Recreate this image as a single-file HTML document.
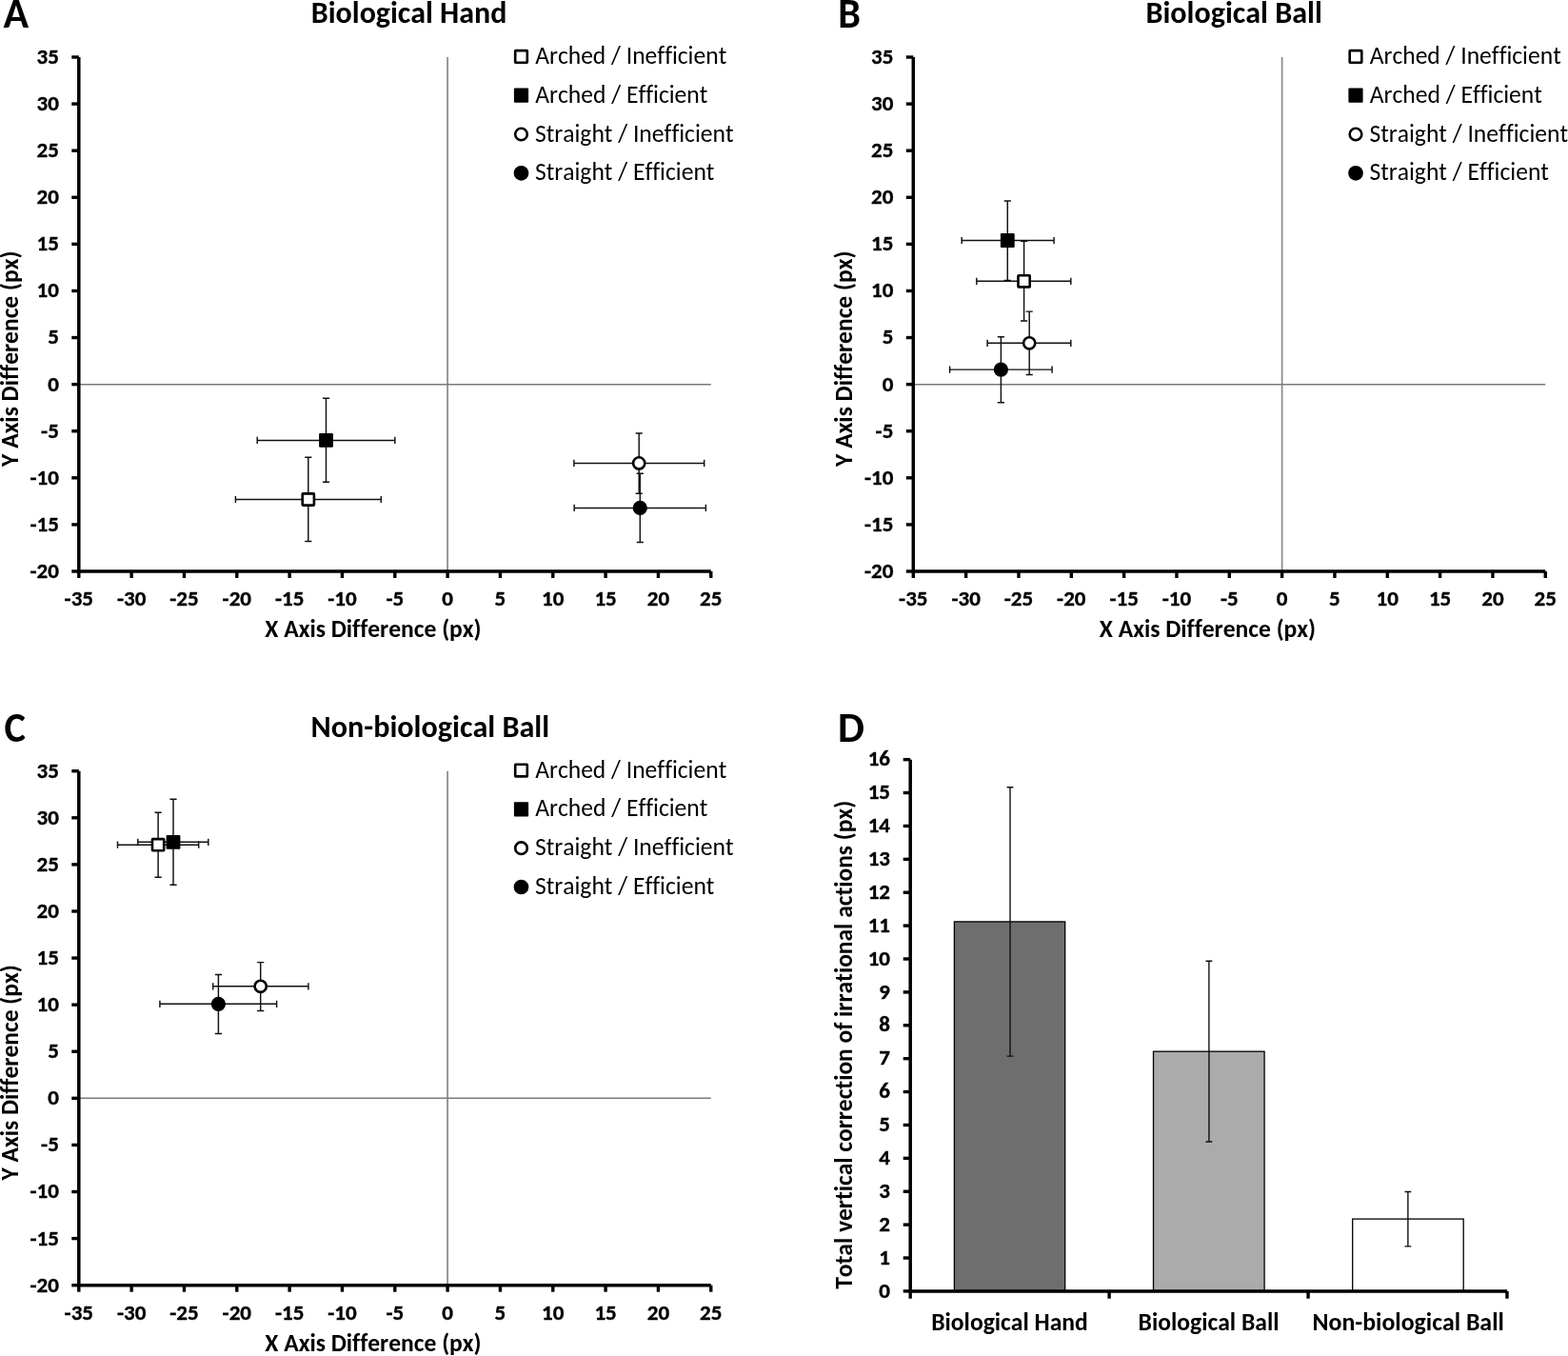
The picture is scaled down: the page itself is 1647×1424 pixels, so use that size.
<!DOCTYPE html>
<html><head><meta charset="utf-8"><title>Figure</title>
<style>html,body{margin:0;padding:0;background:#fff;}body{width:1647px;height:1424px;overflow:hidden;}svg{display:block;}text{font-variant-ligatures:none;font-kerning:none;}</style>
</head><body>
<svg width="1647" height="1424" viewBox="0 0 1647 1424" font-family="Carlito, 'Liberation Sans', sans-serif" fill="#000">
<rect width="1647" height="1424" fill="#fff"/>
<text x="3.40" y="29.10" font-size="44.5" font-weight="700" textLength="26.67" lengthAdjust="spacingAndGlyphs">A</text>
<text x="326.81" y="23.60" font-size="32.2" font-weight="700" textLength="205.61" lengthAdjust="spacingAndGlyphs">Biological Hand</text>
<line x1="470.11" y1="60.00" x2="470.11" y2="599.99" stroke="#888" stroke-width="1.7"/>
<line x1="82.80" y1="403.63" x2="746.76" y2="403.63" stroke="#7a7a7a" stroke-width="1.5"/>
<path d="M82.80,60.00 V599.99 H746.76" fill="none" stroke="#000" stroke-width="3.5" stroke-linejoin="miter"/>
<line x1="75.30" y1="60.00" x2="82.80" y2="60.00" stroke="#000" stroke-width="3.4"/>
<text x="61.80" y="66.90" font-size="23" font-weight="700" text-anchor="end" stroke="#000" stroke-width="0.35" textLength="23.33" lengthAdjust="spacingAndGlyphs">35</text>
<line x1="75.30" y1="109.09" x2="82.80" y2="109.09" stroke="#000" stroke-width="3.4"/>
<text x="61.80" y="115.99" font-size="23" font-weight="700" text-anchor="end" stroke="#000" stroke-width="0.35" textLength="23.33" lengthAdjust="spacingAndGlyphs">30</text>
<line x1="75.30" y1="158.18" x2="82.80" y2="158.18" stroke="#000" stroke-width="3.4"/>
<text x="61.80" y="165.08" font-size="23" font-weight="700" text-anchor="end" stroke="#000" stroke-width="0.35" textLength="23.33" lengthAdjust="spacingAndGlyphs">25</text>
<line x1="75.30" y1="207.27" x2="82.80" y2="207.27" stroke="#000" stroke-width="3.4"/>
<text x="61.80" y="214.17" font-size="23" font-weight="700" text-anchor="end" stroke="#000" stroke-width="0.35" textLength="23.33" lengthAdjust="spacingAndGlyphs">20</text>
<line x1="75.30" y1="256.36" x2="82.80" y2="256.36" stroke="#000" stroke-width="3.4"/>
<text x="61.80" y="263.26" font-size="23" font-weight="700" text-anchor="end" stroke="#000" stroke-width="0.35" textLength="23.33" lengthAdjust="spacingAndGlyphs">15</text>
<line x1="75.30" y1="305.45" x2="82.80" y2="305.45" stroke="#000" stroke-width="3.4"/>
<text x="61.80" y="312.35" font-size="23" font-weight="700" text-anchor="end" stroke="#000" stroke-width="0.35" textLength="23.33" lengthAdjust="spacingAndGlyphs">10</text>
<line x1="75.30" y1="354.54" x2="82.80" y2="354.54" stroke="#000" stroke-width="3.4"/>
<text x="61.80" y="361.44" font-size="23" font-weight="700" text-anchor="end" stroke="#000" stroke-width="0.35" textLength="11.67" lengthAdjust="spacingAndGlyphs">5</text>
<line x1="75.30" y1="403.63" x2="82.80" y2="403.63" stroke="#000" stroke-width="3.4"/>
<text x="61.80" y="410.53" font-size="23" font-weight="700" text-anchor="end" stroke="#000" stroke-width="0.35" textLength="11.67" lengthAdjust="spacingAndGlyphs">0</text>
<line x1="75.30" y1="452.72" x2="82.80" y2="452.72" stroke="#000" stroke-width="3.4"/>
<text x="61.80" y="459.62" font-size="23" font-weight="700" text-anchor="end" stroke="#000" stroke-width="0.35" textLength="18.70" lengthAdjust="spacingAndGlyphs">-5</text>
<line x1="75.30" y1="501.81" x2="82.80" y2="501.81" stroke="#000" stroke-width="3.4"/>
<text x="61.80" y="508.71" font-size="23" font-weight="700" text-anchor="end" stroke="#000" stroke-width="0.35" textLength="30.36" lengthAdjust="spacingAndGlyphs">-10</text>
<line x1="75.30" y1="550.90" x2="82.80" y2="550.90" stroke="#000" stroke-width="3.4"/>
<text x="61.80" y="557.80" font-size="23" font-weight="700" text-anchor="end" stroke="#000" stroke-width="0.35" textLength="30.36" lengthAdjust="spacingAndGlyphs">-15</text>
<line x1="75.30" y1="599.99" x2="82.80" y2="599.99" stroke="#000" stroke-width="3.4"/>
<text x="61.80" y="606.89" font-size="23" font-weight="700" text-anchor="end" stroke="#000" stroke-width="0.35" textLength="30.36" lengthAdjust="spacingAndGlyphs">-20</text>
<line x1="82.80" y1="599.99" x2="82.80" y2="606.99" stroke="#000" stroke-width="3.4"/>
<text x="82.80" y="635.99" font-size="23" font-weight="700" text-anchor="middle" stroke="#000" stroke-width="0.35" textLength="30.36" lengthAdjust="spacingAndGlyphs">-35</text>
<line x1="138.13" y1="599.99" x2="138.13" y2="606.99" stroke="#000" stroke-width="3.4"/>
<text x="138.13" y="635.99" font-size="23" font-weight="700" text-anchor="middle" stroke="#000" stroke-width="0.35" textLength="30.36" lengthAdjust="spacingAndGlyphs">-30</text>
<line x1="193.46" y1="599.99" x2="193.46" y2="606.99" stroke="#000" stroke-width="3.4"/>
<text x="193.46" y="635.99" font-size="23" font-weight="700" text-anchor="middle" stroke="#000" stroke-width="0.35" textLength="30.36" lengthAdjust="spacingAndGlyphs">-25</text>
<line x1="248.79" y1="599.99" x2="248.79" y2="606.99" stroke="#000" stroke-width="3.4"/>
<text x="248.79" y="635.99" font-size="23" font-weight="700" text-anchor="middle" stroke="#000" stroke-width="0.35" textLength="30.36" lengthAdjust="spacingAndGlyphs">-20</text>
<line x1="304.12" y1="599.99" x2="304.12" y2="606.99" stroke="#000" stroke-width="3.4"/>
<text x="304.12" y="635.99" font-size="23" font-weight="700" text-anchor="middle" stroke="#000" stroke-width="0.35" textLength="30.36" lengthAdjust="spacingAndGlyphs">-15</text>
<line x1="359.45" y1="599.99" x2="359.45" y2="606.99" stroke="#000" stroke-width="3.4"/>
<text x="359.45" y="635.99" font-size="23" font-weight="700" text-anchor="middle" stroke="#000" stroke-width="0.35" textLength="30.36" lengthAdjust="spacingAndGlyphs">-10</text>
<line x1="414.78" y1="599.99" x2="414.78" y2="606.99" stroke="#000" stroke-width="3.4"/>
<text x="414.78" y="635.99" font-size="23" font-weight="700" text-anchor="middle" stroke="#000" stroke-width="0.35" textLength="18.70" lengthAdjust="spacingAndGlyphs">-5</text>
<line x1="470.11" y1="599.99" x2="470.11" y2="606.99" stroke="#000" stroke-width="3.4"/>
<text x="470.11" y="635.99" font-size="23" font-weight="700" text-anchor="middle" stroke="#000" stroke-width="0.35" textLength="11.67" lengthAdjust="spacingAndGlyphs">0</text>
<line x1="525.44" y1="599.99" x2="525.44" y2="606.99" stroke="#000" stroke-width="3.4"/>
<text x="525.44" y="635.99" font-size="23" font-weight="700" text-anchor="middle" stroke="#000" stroke-width="0.35" textLength="11.67" lengthAdjust="spacingAndGlyphs">5</text>
<line x1="580.77" y1="599.99" x2="580.77" y2="606.99" stroke="#000" stroke-width="3.4"/>
<text x="580.77" y="635.99" font-size="23" font-weight="700" text-anchor="middle" stroke="#000" stroke-width="0.35" textLength="23.33" lengthAdjust="spacingAndGlyphs">10</text>
<line x1="636.10" y1="599.99" x2="636.10" y2="606.99" stroke="#000" stroke-width="3.4"/>
<text x="636.10" y="635.99" font-size="23" font-weight="700" text-anchor="middle" stroke="#000" stroke-width="0.35" textLength="23.33" lengthAdjust="spacingAndGlyphs">15</text>
<line x1="691.43" y1="599.99" x2="691.43" y2="606.99" stroke="#000" stroke-width="3.4"/>
<text x="691.43" y="635.99" font-size="23" font-weight="700" text-anchor="middle" stroke="#000" stroke-width="0.35" textLength="23.33" lengthAdjust="spacingAndGlyphs">20</text>
<line x1="746.76" y1="599.99" x2="746.76" y2="606.99" stroke="#000" stroke-width="3.4"/>
<text x="746.76" y="635.99" font-size="23" font-weight="700" text-anchor="middle" stroke="#000" stroke-width="0.35" textLength="23.33" lengthAdjust="spacingAndGlyphs">25</text>
<text x="278.30" y="668.90" font-size="25.55" font-weight="700" textLength="227.26" lengthAdjust="spacingAndGlyphs">X Axis Difference (px)</text>
<text x="0" y="0" font-size="25.55" font-weight="700" textLength="226.27" lengthAdjust="spacingAndGlyphs" transform="translate(18.50,489.90) rotate(-90) translate(-0.00,0)">Y Axis Difference (px)</text>
<rect x="541.20" y="53.10" width="12.60" height="12.60" rx="0.5" fill="#fff" stroke="#000" stroke-width="2.6"/>
<text x="562.20" y="66.90" font-size="25.6" font-weight="400" textLength="201.02" lengthAdjust="spacingAndGlyphs">Arched / Inefficient</text>
<rect x="539.90" y="92.60" width="15.20" height="15.20" rx="1" fill="#000"/>
<text x="562.20" y="107.70" font-size="25.6" font-weight="400" textLength="181.19" lengthAdjust="spacingAndGlyphs">Arched / Efficient</text>
<circle cx="547.50" cy="141.00" r="6.30" fill="#fff" stroke="#000" stroke-width="2.6"/>
<text x="561.90" y="148.50" font-size="25.6" font-weight="400" textLength="208.70" lengthAdjust="spacingAndGlyphs">Straight / Inefficient</text>
<circle cx="547.50" cy="181.80" r="7.85" fill="#000"/>
<text x="561.90" y="189.30" font-size="25.6" font-weight="400" textLength="188.56" lengthAdjust="spacingAndGlyphs">Straight / Efficient</text>
<path d="M247.40,524.50 H400.30 M323.80,480.30 V568.40 M247.40,520.90 v7.2 M400.30,520.90 v7.2 M320.20,480.30 h7.2 M320.20,568.40 h7.2" stroke="#111" stroke-width="1.45" fill="none"/>
<path d="M270.20,462.40 H414.80 M342.50,418.30 V506.20 M270.20,458.80 v7.2 M414.80,458.80 v7.2 M338.90,418.30 h7.2 M338.90,506.20 h7.2" stroke="#111" stroke-width="1.45" fill="none"/>
<path d="M602.90,486.40 H739.70 M671.20,455.00 V518.20 M602.90,482.80 v7.2 M739.70,482.80 v7.2 M667.60,455.00 h7.2 M667.60,518.20 h7.2" stroke="#111" stroke-width="1.45" fill="none"/>
<path d="M603.20,533.40 H741.40 M672.30,497.30 V569.50 M603.20,529.80 v7.2 M741.40,529.80 v7.2 M668.70,497.30 h7.2 M668.70,569.50 h7.2" stroke="#111" stroke-width="1.45" fill="none"/>
<rect x="317.70" y="518.40" width="12.20" height="12.20" rx="0.5" fill="#fff" stroke="#000" stroke-width="2.6"/>
<rect x="335.10" y="455.00" width="14.80" height="14.80" rx="1" fill="#000"/>
<circle cx="671.20" cy="486.40" r="6.10" fill="#fff" stroke="#000" stroke-width="2.6"/>
<circle cx="672.30" cy="533.40" r="7.65" fill="#000"/>
<text x="880.30" y="29.10" font-size="44.5" font-weight="700" textLength="23.71" lengthAdjust="spacingAndGlyphs">B</text>
<text x="1203.50" y="23.60" font-size="32.2" font-weight="700" textLength="185.31" lengthAdjust="spacingAndGlyphs">Biological Ball</text>
<line x1="1346.61" y1="60.00" x2="1346.61" y2="599.99" stroke="#888" stroke-width="1.7"/>
<line x1="959.30" y1="403.63" x2="1623.26" y2="403.63" stroke="#7a7a7a" stroke-width="1.5"/>
<path d="M959.30,60.00 V599.99 H1623.26" fill="none" stroke="#000" stroke-width="3.5" stroke-linejoin="miter"/>
<line x1="951.80" y1="60.00" x2="959.30" y2="60.00" stroke="#000" stroke-width="3.4"/>
<text x="938.30" y="66.90" font-size="23" font-weight="700" text-anchor="end" stroke="#000" stroke-width="0.35" textLength="23.33" lengthAdjust="spacingAndGlyphs">35</text>
<line x1="951.80" y1="109.09" x2="959.30" y2="109.09" stroke="#000" stroke-width="3.4"/>
<text x="938.30" y="115.99" font-size="23" font-weight="700" text-anchor="end" stroke="#000" stroke-width="0.35" textLength="23.33" lengthAdjust="spacingAndGlyphs">30</text>
<line x1="951.80" y1="158.18" x2="959.30" y2="158.18" stroke="#000" stroke-width="3.4"/>
<text x="938.30" y="165.08" font-size="23" font-weight="700" text-anchor="end" stroke="#000" stroke-width="0.35" textLength="23.33" lengthAdjust="spacingAndGlyphs">25</text>
<line x1="951.80" y1="207.27" x2="959.30" y2="207.27" stroke="#000" stroke-width="3.4"/>
<text x="938.30" y="214.17" font-size="23" font-weight="700" text-anchor="end" stroke="#000" stroke-width="0.35" textLength="23.33" lengthAdjust="spacingAndGlyphs">20</text>
<line x1="951.80" y1="256.36" x2="959.30" y2="256.36" stroke="#000" stroke-width="3.4"/>
<text x="938.30" y="263.26" font-size="23" font-weight="700" text-anchor="end" stroke="#000" stroke-width="0.35" textLength="23.33" lengthAdjust="spacingAndGlyphs">15</text>
<line x1="951.80" y1="305.45" x2="959.30" y2="305.45" stroke="#000" stroke-width="3.4"/>
<text x="938.30" y="312.35" font-size="23" font-weight="700" text-anchor="end" stroke="#000" stroke-width="0.35" textLength="23.33" lengthAdjust="spacingAndGlyphs">10</text>
<line x1="951.80" y1="354.54" x2="959.30" y2="354.54" stroke="#000" stroke-width="3.4"/>
<text x="938.30" y="361.44" font-size="23" font-weight="700" text-anchor="end" stroke="#000" stroke-width="0.35" textLength="11.67" lengthAdjust="spacingAndGlyphs">5</text>
<line x1="951.80" y1="403.63" x2="959.30" y2="403.63" stroke="#000" stroke-width="3.4"/>
<text x="938.30" y="410.53" font-size="23" font-weight="700" text-anchor="end" stroke="#000" stroke-width="0.35" textLength="11.67" lengthAdjust="spacingAndGlyphs">0</text>
<line x1="951.80" y1="452.72" x2="959.30" y2="452.72" stroke="#000" stroke-width="3.4"/>
<text x="938.30" y="459.62" font-size="23" font-weight="700" text-anchor="end" stroke="#000" stroke-width="0.35" textLength="18.70" lengthAdjust="spacingAndGlyphs">-5</text>
<line x1="951.80" y1="501.81" x2="959.30" y2="501.81" stroke="#000" stroke-width="3.4"/>
<text x="938.30" y="508.71" font-size="23" font-weight="700" text-anchor="end" stroke="#000" stroke-width="0.35" textLength="30.36" lengthAdjust="spacingAndGlyphs">-10</text>
<line x1="951.80" y1="550.90" x2="959.30" y2="550.90" stroke="#000" stroke-width="3.4"/>
<text x="938.30" y="557.80" font-size="23" font-weight="700" text-anchor="end" stroke="#000" stroke-width="0.35" textLength="30.36" lengthAdjust="spacingAndGlyphs">-15</text>
<line x1="951.80" y1="599.99" x2="959.30" y2="599.99" stroke="#000" stroke-width="3.4"/>
<text x="938.30" y="606.89" font-size="23" font-weight="700" text-anchor="end" stroke="#000" stroke-width="0.35" textLength="30.36" lengthAdjust="spacingAndGlyphs">-20</text>
<line x1="959.30" y1="599.99" x2="959.30" y2="606.99" stroke="#000" stroke-width="3.4"/>
<text x="959.30" y="635.99" font-size="23" font-weight="700" text-anchor="middle" stroke="#000" stroke-width="0.35" textLength="30.36" lengthAdjust="spacingAndGlyphs">-35</text>
<line x1="1014.63" y1="599.99" x2="1014.63" y2="606.99" stroke="#000" stroke-width="3.4"/>
<text x="1014.63" y="635.99" font-size="23" font-weight="700" text-anchor="middle" stroke="#000" stroke-width="0.35" textLength="30.36" lengthAdjust="spacingAndGlyphs">-30</text>
<line x1="1069.96" y1="599.99" x2="1069.96" y2="606.99" stroke="#000" stroke-width="3.4"/>
<text x="1069.96" y="635.99" font-size="23" font-weight="700" text-anchor="middle" stroke="#000" stroke-width="0.35" textLength="30.36" lengthAdjust="spacingAndGlyphs">-25</text>
<line x1="1125.29" y1="599.99" x2="1125.29" y2="606.99" stroke="#000" stroke-width="3.4"/>
<text x="1125.29" y="635.99" font-size="23" font-weight="700" text-anchor="middle" stroke="#000" stroke-width="0.35" textLength="30.36" lengthAdjust="spacingAndGlyphs">-20</text>
<line x1="1180.62" y1="599.99" x2="1180.62" y2="606.99" stroke="#000" stroke-width="3.4"/>
<text x="1180.62" y="635.99" font-size="23" font-weight="700" text-anchor="middle" stroke="#000" stroke-width="0.35" textLength="30.36" lengthAdjust="spacingAndGlyphs">-15</text>
<line x1="1235.95" y1="599.99" x2="1235.95" y2="606.99" stroke="#000" stroke-width="3.4"/>
<text x="1235.95" y="635.99" font-size="23" font-weight="700" text-anchor="middle" stroke="#000" stroke-width="0.35" textLength="30.36" lengthAdjust="spacingAndGlyphs">-10</text>
<line x1="1291.28" y1="599.99" x2="1291.28" y2="606.99" stroke="#000" stroke-width="3.4"/>
<text x="1291.28" y="635.99" font-size="23" font-weight="700" text-anchor="middle" stroke="#000" stroke-width="0.35" textLength="18.70" lengthAdjust="spacingAndGlyphs">-5</text>
<line x1="1346.61" y1="599.99" x2="1346.61" y2="606.99" stroke="#000" stroke-width="3.4"/>
<text x="1346.61" y="635.99" font-size="23" font-weight="700" text-anchor="middle" stroke="#000" stroke-width="0.35" textLength="11.67" lengthAdjust="spacingAndGlyphs">0</text>
<line x1="1401.94" y1="599.99" x2="1401.94" y2="606.99" stroke="#000" stroke-width="3.4"/>
<text x="1401.94" y="635.99" font-size="23" font-weight="700" text-anchor="middle" stroke="#000" stroke-width="0.35" textLength="11.67" lengthAdjust="spacingAndGlyphs">5</text>
<line x1="1457.27" y1="599.99" x2="1457.27" y2="606.99" stroke="#000" stroke-width="3.4"/>
<text x="1457.27" y="635.99" font-size="23" font-weight="700" text-anchor="middle" stroke="#000" stroke-width="0.35" textLength="23.33" lengthAdjust="spacingAndGlyphs">10</text>
<line x1="1512.60" y1="599.99" x2="1512.60" y2="606.99" stroke="#000" stroke-width="3.4"/>
<text x="1512.60" y="635.99" font-size="23" font-weight="700" text-anchor="middle" stroke="#000" stroke-width="0.35" textLength="23.33" lengthAdjust="spacingAndGlyphs">15</text>
<line x1="1567.93" y1="599.99" x2="1567.93" y2="606.99" stroke="#000" stroke-width="3.4"/>
<text x="1567.93" y="635.99" font-size="23" font-weight="700" text-anchor="middle" stroke="#000" stroke-width="0.35" textLength="23.33" lengthAdjust="spacingAndGlyphs">20</text>
<line x1="1623.26" y1="599.99" x2="1623.26" y2="606.99" stroke="#000" stroke-width="3.4"/>
<text x="1623.26" y="635.99" font-size="23" font-weight="700" text-anchor="middle" stroke="#000" stroke-width="0.35" textLength="23.33" lengthAdjust="spacingAndGlyphs">25</text>
<text x="1154.80" y="668.90" font-size="25.55" font-weight="700" textLength="227.26" lengthAdjust="spacingAndGlyphs">X Axis Difference (px)</text>
<text x="0" y="0" font-size="25.55" font-weight="700" textLength="226.27" lengthAdjust="spacingAndGlyphs" transform="translate(895.00,489.90) rotate(-90) translate(-0.00,0)">Y Axis Difference (px)</text>
<rect x="1417.70" y="53.10" width="12.60" height="12.60" rx="0.5" fill="#fff" stroke="#000" stroke-width="2.6"/>
<text x="1438.70" y="66.90" font-size="25.6" font-weight="400" textLength="201.02" lengthAdjust="spacingAndGlyphs">Arched / Inefficient</text>
<rect x="1416.40" y="92.60" width="15.20" height="15.20" rx="1" fill="#000"/>
<text x="1438.70" y="107.70" font-size="25.6" font-weight="400" textLength="181.19" lengthAdjust="spacingAndGlyphs">Arched / Efficient</text>
<circle cx="1424.00" cy="141.00" r="6.30" fill="#fff" stroke="#000" stroke-width="2.6"/>
<text x="1438.40" y="148.50" font-size="25.6" font-weight="400" textLength="208.70" lengthAdjust="spacingAndGlyphs">Straight / Inefficient</text>
<circle cx="1424.00" cy="181.80" r="7.85" fill="#000"/>
<text x="1438.40" y="189.30" font-size="25.6" font-weight="400" textLength="188.56" lengthAdjust="spacingAndGlyphs">Straight / Efficient</text>
<path d="M1025.80,295.30 H1124.80 M1075.60,253.30 V336.90 M1025.80,291.70 v7.2 M1124.80,291.70 v7.2 M1072.00,253.30 h7.2 M1072.00,336.90 h7.2" stroke="#111" stroke-width="1.45" fill="none"/>
<path d="M1010.20,252.50 H1107.10 M1058.30,211.00 V294.50 M1010.20,248.90 v7.2 M1107.10,248.90 v7.2 M1054.70,211.00 h7.2 M1054.70,294.50 h7.2" stroke="#111" stroke-width="1.45" fill="none"/>
<path d="M1037.10,360.30 H1124.80 M1081.20,327.10 V393.40 M1037.10,356.70 v7.2 M1124.80,356.70 v7.2 M1077.60,327.10 h7.2 M1077.60,393.40 h7.2" stroke="#111" stroke-width="1.45" fill="none"/>
<path d="M997.60,388.10 H1105.10 M1051.40,353.70 V422.80 M997.60,384.50 v7.2 M1105.10,384.50 v7.2 M1047.80,353.70 h7.2 M1047.80,422.80 h7.2" stroke="#111" stroke-width="1.45" fill="none"/>
<rect x="1069.50" y="289.20" width="12.20" height="12.20" rx="0.5" fill="#fff" stroke="#000" stroke-width="2.6"/>
<rect x="1050.90" y="245.10" width="14.80" height="14.80" rx="1" fill="#000"/>
<circle cx="1081.20" cy="360.30" r="6.10" fill="#fff" stroke="#000" stroke-width="2.6"/>
<circle cx="1051.40" cy="388.10" r="7.65" fill="#000"/>
<text x="4.60" y="779.00" font-size="44.5" font-weight="700" textLength="22.44" lengthAdjust="spacingAndGlyphs">C</text>
<text x="326.60" y="773.50" font-size="32.2" font-weight="700" textLength="250.58" lengthAdjust="spacingAndGlyphs">Non-biological Ball</text>
<line x1="470.11" y1="809.70" x2="470.11" y2="1349.69" stroke="#888" stroke-width="1.7"/>
<line x1="82.80" y1="1153.33" x2="746.76" y2="1153.33" stroke="#7a7a7a" stroke-width="1.5"/>
<path d="M82.80,809.70 V1349.69 H746.76" fill="none" stroke="#000" stroke-width="3.5" stroke-linejoin="miter"/>
<line x1="75.30" y1="809.70" x2="82.80" y2="809.70" stroke="#000" stroke-width="3.4"/>
<text x="61.80" y="816.60" font-size="23" font-weight="700" text-anchor="end" stroke="#000" stroke-width="0.35" textLength="23.33" lengthAdjust="spacingAndGlyphs">35</text>
<line x1="75.30" y1="858.79" x2="82.80" y2="858.79" stroke="#000" stroke-width="3.4"/>
<text x="61.80" y="865.69" font-size="23" font-weight="700" text-anchor="end" stroke="#000" stroke-width="0.35" textLength="23.33" lengthAdjust="spacingAndGlyphs">30</text>
<line x1="75.30" y1="907.88" x2="82.80" y2="907.88" stroke="#000" stroke-width="3.4"/>
<text x="61.80" y="914.78" font-size="23" font-weight="700" text-anchor="end" stroke="#000" stroke-width="0.35" textLength="23.33" lengthAdjust="spacingAndGlyphs">25</text>
<line x1="75.30" y1="956.97" x2="82.80" y2="956.97" stroke="#000" stroke-width="3.4"/>
<text x="61.80" y="963.87" font-size="23" font-weight="700" text-anchor="end" stroke="#000" stroke-width="0.35" textLength="23.33" lengthAdjust="spacingAndGlyphs">20</text>
<line x1="75.30" y1="1006.06" x2="82.80" y2="1006.06" stroke="#000" stroke-width="3.4"/>
<text x="61.80" y="1012.96" font-size="23" font-weight="700" text-anchor="end" stroke="#000" stroke-width="0.35" textLength="23.33" lengthAdjust="spacingAndGlyphs">15</text>
<line x1="75.30" y1="1055.15" x2="82.80" y2="1055.15" stroke="#000" stroke-width="3.4"/>
<text x="61.80" y="1062.05" font-size="23" font-weight="700" text-anchor="end" stroke="#000" stroke-width="0.35" textLength="23.33" lengthAdjust="spacingAndGlyphs">10</text>
<line x1="75.30" y1="1104.24" x2="82.80" y2="1104.24" stroke="#000" stroke-width="3.4"/>
<text x="61.80" y="1111.14" font-size="23" font-weight="700" text-anchor="end" stroke="#000" stroke-width="0.35" textLength="11.67" lengthAdjust="spacingAndGlyphs">5</text>
<line x1="75.30" y1="1153.33" x2="82.80" y2="1153.33" stroke="#000" stroke-width="3.4"/>
<text x="61.80" y="1160.23" font-size="23" font-weight="700" text-anchor="end" stroke="#000" stroke-width="0.35" textLength="11.67" lengthAdjust="spacingAndGlyphs">0</text>
<line x1="75.30" y1="1202.42" x2="82.80" y2="1202.42" stroke="#000" stroke-width="3.4"/>
<text x="61.80" y="1209.32" font-size="23" font-weight="700" text-anchor="end" stroke="#000" stroke-width="0.35" textLength="18.70" lengthAdjust="spacingAndGlyphs">-5</text>
<line x1="75.30" y1="1251.51" x2="82.80" y2="1251.51" stroke="#000" stroke-width="3.4"/>
<text x="61.80" y="1258.41" font-size="23" font-weight="700" text-anchor="end" stroke="#000" stroke-width="0.35" textLength="30.36" lengthAdjust="spacingAndGlyphs">-10</text>
<line x1="75.30" y1="1300.60" x2="82.80" y2="1300.60" stroke="#000" stroke-width="3.4"/>
<text x="61.80" y="1307.50" font-size="23" font-weight="700" text-anchor="end" stroke="#000" stroke-width="0.35" textLength="30.36" lengthAdjust="spacingAndGlyphs">-15</text>
<line x1="75.30" y1="1349.69" x2="82.80" y2="1349.69" stroke="#000" stroke-width="3.4"/>
<text x="61.80" y="1356.59" font-size="23" font-weight="700" text-anchor="end" stroke="#000" stroke-width="0.35" textLength="30.36" lengthAdjust="spacingAndGlyphs">-20</text>
<line x1="82.80" y1="1349.69" x2="82.80" y2="1356.69" stroke="#000" stroke-width="3.4"/>
<text x="82.80" y="1385.69" font-size="23" font-weight="700" text-anchor="middle" stroke="#000" stroke-width="0.35" textLength="30.36" lengthAdjust="spacingAndGlyphs">-35</text>
<line x1="138.13" y1="1349.69" x2="138.13" y2="1356.69" stroke="#000" stroke-width="3.4"/>
<text x="138.13" y="1385.69" font-size="23" font-weight="700" text-anchor="middle" stroke="#000" stroke-width="0.35" textLength="30.36" lengthAdjust="spacingAndGlyphs">-30</text>
<line x1="193.46" y1="1349.69" x2="193.46" y2="1356.69" stroke="#000" stroke-width="3.4"/>
<text x="193.46" y="1385.69" font-size="23" font-weight="700" text-anchor="middle" stroke="#000" stroke-width="0.35" textLength="30.36" lengthAdjust="spacingAndGlyphs">-25</text>
<line x1="248.79" y1="1349.69" x2="248.79" y2="1356.69" stroke="#000" stroke-width="3.4"/>
<text x="248.79" y="1385.69" font-size="23" font-weight="700" text-anchor="middle" stroke="#000" stroke-width="0.35" textLength="30.36" lengthAdjust="spacingAndGlyphs">-20</text>
<line x1="304.12" y1="1349.69" x2="304.12" y2="1356.69" stroke="#000" stroke-width="3.4"/>
<text x="304.12" y="1385.69" font-size="23" font-weight="700" text-anchor="middle" stroke="#000" stroke-width="0.35" textLength="30.36" lengthAdjust="spacingAndGlyphs">-15</text>
<line x1="359.45" y1="1349.69" x2="359.45" y2="1356.69" stroke="#000" stroke-width="3.4"/>
<text x="359.45" y="1385.69" font-size="23" font-weight="700" text-anchor="middle" stroke="#000" stroke-width="0.35" textLength="30.36" lengthAdjust="spacingAndGlyphs">-10</text>
<line x1="414.78" y1="1349.69" x2="414.78" y2="1356.69" stroke="#000" stroke-width="3.4"/>
<text x="414.78" y="1385.69" font-size="23" font-weight="700" text-anchor="middle" stroke="#000" stroke-width="0.35" textLength="18.70" lengthAdjust="spacingAndGlyphs">-5</text>
<line x1="470.11" y1="1349.69" x2="470.11" y2="1356.69" stroke="#000" stroke-width="3.4"/>
<text x="470.11" y="1385.69" font-size="23" font-weight="700" text-anchor="middle" stroke="#000" stroke-width="0.35" textLength="11.67" lengthAdjust="spacingAndGlyphs">0</text>
<line x1="525.44" y1="1349.69" x2="525.44" y2="1356.69" stroke="#000" stroke-width="3.4"/>
<text x="525.44" y="1385.69" font-size="23" font-weight="700" text-anchor="middle" stroke="#000" stroke-width="0.35" textLength="11.67" lengthAdjust="spacingAndGlyphs">5</text>
<line x1="580.77" y1="1349.69" x2="580.77" y2="1356.69" stroke="#000" stroke-width="3.4"/>
<text x="580.77" y="1385.69" font-size="23" font-weight="700" text-anchor="middle" stroke="#000" stroke-width="0.35" textLength="23.33" lengthAdjust="spacingAndGlyphs">10</text>
<line x1="636.10" y1="1349.69" x2="636.10" y2="1356.69" stroke="#000" stroke-width="3.4"/>
<text x="636.10" y="1385.69" font-size="23" font-weight="700" text-anchor="middle" stroke="#000" stroke-width="0.35" textLength="23.33" lengthAdjust="spacingAndGlyphs">15</text>
<line x1="691.43" y1="1349.69" x2="691.43" y2="1356.69" stroke="#000" stroke-width="3.4"/>
<text x="691.43" y="1385.69" font-size="23" font-weight="700" text-anchor="middle" stroke="#000" stroke-width="0.35" textLength="23.33" lengthAdjust="spacingAndGlyphs">20</text>
<line x1="746.76" y1="1349.69" x2="746.76" y2="1356.69" stroke="#000" stroke-width="3.4"/>
<text x="746.76" y="1385.69" font-size="23" font-weight="700" text-anchor="middle" stroke="#000" stroke-width="0.35" textLength="23.33" lengthAdjust="spacingAndGlyphs">25</text>
<text x="278.30" y="1418.60" font-size="25.55" font-weight="700" textLength="227.26" lengthAdjust="spacingAndGlyphs">X Axis Difference (px)</text>
<text x="0" y="0" font-size="25.55" font-weight="700" textLength="226.27" lengthAdjust="spacingAndGlyphs" transform="translate(18.50,1239.60) rotate(-90) translate(-0.00,0)">Y Axis Difference (px)</text>
<rect x="541.20" y="802.80" width="12.60" height="12.60" rx="0.5" fill="#fff" stroke="#000" stroke-width="2.6"/>
<text x="562.20" y="816.60" font-size="25.6" font-weight="400" textLength="201.02" lengthAdjust="spacingAndGlyphs">Arched / Inefficient</text>
<rect x="539.90" y="842.30" width="15.20" height="15.20" rx="1" fill="#000"/>
<text x="562.20" y="857.40" font-size="25.6" font-weight="400" textLength="181.19" lengthAdjust="spacingAndGlyphs">Arched / Efficient</text>
<circle cx="547.50" cy="890.70" r="6.30" fill="#fff" stroke="#000" stroke-width="2.6"/>
<text x="561.90" y="898.20" font-size="25.6" font-weight="400" textLength="208.70" lengthAdjust="spacingAndGlyphs">Straight / Inefficient</text>
<circle cx="547.50" cy="931.50" r="7.85" fill="#000"/>
<text x="561.90" y="939.00" font-size="25.6" font-weight="400" textLength="188.56" lengthAdjust="spacingAndGlyphs">Straight / Efficient</text>
<path d="M123.50,887.20 H208.70 M166.10,853.30 V921.20 M123.50,883.60 v7.2 M208.70,883.60 v7.2 M162.50,853.30 h7.2 M162.50,921.20 h7.2" stroke="#111" stroke-width="1.45" fill="none"/>
<path d="M144.80,884.30 H218.80 M182.00,839.30 V929.30 M144.80,880.70 v7.2 M218.80,880.70 v7.2 M178.40,839.30 h7.2 M178.40,929.30 h7.2" stroke="#111" stroke-width="1.45" fill="none"/>
<path d="M223.70,1035.80 H323.90 M273.70,1010.60 V1061.40 M223.70,1032.20 v7.2 M323.90,1032.20 v7.2 M270.10,1010.60 h7.2 M270.10,1061.40 h7.2" stroke="#111" stroke-width="1.45" fill="none"/>
<path d="M167.90,1054.30 H290.60 M229.40,1023.50 V1085.50 M167.90,1050.70 v7.2 M290.60,1050.70 v7.2 M225.80,1023.50 h7.2 M225.80,1085.50 h7.2" stroke="#111" stroke-width="1.45" fill="none"/>
<rect x="160.00" y="881.10" width="12.20" height="12.20" rx="0.5" fill="#fff" stroke="#000" stroke-width="2.6"/>
<rect x="174.60" y="876.90" width="14.80" height="14.80" rx="1" fill="#000"/>
<circle cx="273.70" cy="1035.80" r="6.10" fill="#fff" stroke="#000" stroke-width="2.6"/>
<circle cx="229.40" cy="1054.30" r="7.65" fill="#000"/>
<text x="879.91" y="778.90" font-size="44.5" font-weight="700" textLength="27.95" lengthAdjust="spacingAndGlyphs">D</text>
<rect x="1002.40" y="967.90" width="116.30" height="388.00" fill="#6e6e6e" stroke="#000" stroke-width="1.3"/>
<path d="M1061.00,826.80 V1109.10 M1057.60,826.80 h6.8 M1057.60,1109.10 h6.8" stroke="#111" stroke-width="1.4" fill="none"/>
<rect x="1211.50" y="1104.20" width="116.60" height="251.70" fill="#ababab" stroke="#000" stroke-width="1.3"/>
<path d="M1269.90,1009.20 V1199.00 M1266.50,1009.20 h6.8 M1266.50,1199.00 h6.8" stroke="#111" stroke-width="1.4" fill="none"/>
<rect x="1420.70" y="1280.10" width="116.50" height="75.80" fill="#ffffff" stroke="#000" stroke-width="1.3"/>
<path d="M1478.90,1251.50 V1308.90 M1475.50,1251.50 h6.8 M1475.50,1308.90 h6.8" stroke="#111" stroke-width="1.4" fill="none"/>
<path d="M956.20,797.66 V1355.90 H1583.00" fill="none" stroke="#000" stroke-width="3.5" stroke-linejoin="miter"/>
<line x1="948.70" y1="1355.90" x2="956.20" y2="1355.90" stroke="#000" stroke-width="3.4"/>
<text x="935.00" y="1362.60" font-size="23" font-weight="700" text-anchor="end" stroke="#000" stroke-width="0.35" textLength="11.67" lengthAdjust="spacingAndGlyphs">0</text>
<line x1="948.70" y1="1321.01" x2="956.20" y2="1321.01" stroke="#000" stroke-width="3.4"/>
<text x="935.00" y="1327.71" font-size="23" font-weight="700" text-anchor="end" stroke="#000" stroke-width="0.35" textLength="11.67" lengthAdjust="spacingAndGlyphs">1</text>
<line x1="948.70" y1="1286.12" x2="956.20" y2="1286.12" stroke="#000" stroke-width="3.4"/>
<text x="935.00" y="1292.82" font-size="23" font-weight="700" text-anchor="end" stroke="#000" stroke-width="0.35" textLength="11.67" lengthAdjust="spacingAndGlyphs">2</text>
<line x1="948.70" y1="1251.23" x2="956.20" y2="1251.23" stroke="#000" stroke-width="3.4"/>
<text x="935.00" y="1257.93" font-size="23" font-weight="700" text-anchor="end" stroke="#000" stroke-width="0.35" textLength="11.67" lengthAdjust="spacingAndGlyphs">3</text>
<line x1="948.70" y1="1216.34" x2="956.20" y2="1216.34" stroke="#000" stroke-width="3.4"/>
<text x="935.00" y="1223.04" font-size="23" font-weight="700" text-anchor="end" stroke="#000" stroke-width="0.35" textLength="11.67" lengthAdjust="spacingAndGlyphs">4</text>
<line x1="948.70" y1="1181.45" x2="956.20" y2="1181.45" stroke="#000" stroke-width="3.4"/>
<text x="935.00" y="1188.15" font-size="23" font-weight="700" text-anchor="end" stroke="#000" stroke-width="0.35" textLength="11.67" lengthAdjust="spacingAndGlyphs">5</text>
<line x1="948.70" y1="1146.56" x2="956.20" y2="1146.56" stroke="#000" stroke-width="3.4"/>
<text x="935.00" y="1153.26" font-size="23" font-weight="700" text-anchor="end" stroke="#000" stroke-width="0.35" textLength="11.67" lengthAdjust="spacingAndGlyphs">6</text>
<line x1="948.70" y1="1111.67" x2="956.20" y2="1111.67" stroke="#000" stroke-width="3.4"/>
<text x="935.00" y="1118.37" font-size="23" font-weight="700" text-anchor="end" stroke="#000" stroke-width="0.35" textLength="11.67" lengthAdjust="spacingAndGlyphs">7</text>
<line x1="948.70" y1="1076.78" x2="956.20" y2="1076.78" stroke="#000" stroke-width="3.4"/>
<text x="935.00" y="1083.48" font-size="23" font-weight="700" text-anchor="end" stroke="#000" stroke-width="0.35" textLength="11.67" lengthAdjust="spacingAndGlyphs">8</text>
<line x1="948.70" y1="1041.89" x2="956.20" y2="1041.89" stroke="#000" stroke-width="3.4"/>
<text x="935.00" y="1048.59" font-size="23" font-weight="700" text-anchor="end" stroke="#000" stroke-width="0.35" textLength="11.67" lengthAdjust="spacingAndGlyphs">9</text>
<line x1="948.70" y1="1007.00" x2="956.20" y2="1007.00" stroke="#000" stroke-width="3.4"/>
<text x="935.00" y="1013.70" font-size="23" font-weight="700" text-anchor="end" stroke="#000" stroke-width="0.35" textLength="23.33" lengthAdjust="spacingAndGlyphs">10</text>
<line x1="948.70" y1="972.11" x2="956.20" y2="972.11" stroke="#000" stroke-width="3.4"/>
<text x="935.00" y="978.81" font-size="23" font-weight="700" text-anchor="end" stroke="#000" stroke-width="0.35" textLength="23.33" lengthAdjust="spacingAndGlyphs">11</text>
<line x1="948.70" y1="937.22" x2="956.20" y2="937.22" stroke="#000" stroke-width="3.4"/>
<text x="935.00" y="943.92" font-size="23" font-weight="700" text-anchor="end" stroke="#000" stroke-width="0.35" textLength="23.33" lengthAdjust="spacingAndGlyphs">12</text>
<line x1="948.70" y1="902.33" x2="956.20" y2="902.33" stroke="#000" stroke-width="3.4"/>
<text x="935.00" y="909.03" font-size="23" font-weight="700" text-anchor="end" stroke="#000" stroke-width="0.35" textLength="23.33" lengthAdjust="spacingAndGlyphs">13</text>
<line x1="948.70" y1="867.44" x2="956.20" y2="867.44" stroke="#000" stroke-width="3.4"/>
<text x="935.00" y="874.14" font-size="23" font-weight="700" text-anchor="end" stroke="#000" stroke-width="0.35" textLength="23.33" lengthAdjust="spacingAndGlyphs">14</text>
<line x1="948.70" y1="832.55" x2="956.20" y2="832.55" stroke="#000" stroke-width="3.4"/>
<text x="935.00" y="839.25" font-size="23" font-weight="700" text-anchor="end" stroke="#000" stroke-width="0.35" textLength="23.33" lengthAdjust="spacingAndGlyphs">15</text>
<line x1="948.70" y1="797.66" x2="956.20" y2="797.66" stroke="#000" stroke-width="3.4"/>
<text x="935.00" y="804.36" font-size="23" font-weight="700" text-anchor="end" stroke="#000" stroke-width="0.35" textLength="23.33" lengthAdjust="spacingAndGlyphs">16</text>
<line x1="956.20" y1="1355.90" x2="956.20" y2="1363.70" stroke="#000" stroke-width="3.4"/>
<line x1="1165.13" y1="1355.90" x2="1165.13" y2="1363.70" stroke="#000" stroke-width="3.4"/>
<line x1="1374.07" y1="1355.90" x2="1374.07" y2="1363.70" stroke="#000" stroke-width="3.4"/>
<line x1="1583.00" y1="1355.90" x2="1583.00" y2="1363.70" stroke="#000" stroke-width="3.4"/>
<text x="978.21" y="1396.60" font-size="25.75" font-weight="700" textLength="164.62" lengthAdjust="spacingAndGlyphs">Biological Hand</text>
<text x="1195.61" y="1396.60" font-size="25.75" font-weight="700" textLength="147.92" lengthAdjust="spacingAndGlyphs">Biological Ball</text>
<text x="1378.50" y="1396.60" font-size="25.75" font-weight="700" textLength="201.33" lengthAdjust="spacingAndGlyphs">Non-biological Ball</text>
<text x="0" y="0" font-size="25.55" font-weight="700" textLength="512.88" lengthAdjust="spacingAndGlyphs" transform="translate(895.00,1353.80) rotate(-90) translate(-0.00,0)">Total vertical correction of irrational actions (px)</text>
</svg>
</body></html>
